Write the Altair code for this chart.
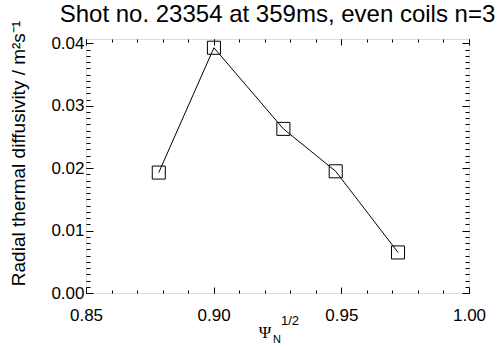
import altair as alt
import pandas as pd

# Radial thermal diffusivity profile
psi = [0.8785, 0.9001, 0.9273, 0.9478, 0.9722]
chi = [0.0193, 0.0393, 0.0263, 0.0195, 0.0065]

# Axis tick positions (major / minor)
x_major = [0.85, 0.90, 0.95, 1.00]
x_minor = [round(0.85 + 0.01 * i, 2) for i in range(16)]
y_major = [0.00, 0.01, 0.02, 0.03, 0.04]
y_minor = [round(0.001 * i, 3) for i in range(41)]

title_text = "Shot no. 23354 at 359ms, even coils n=3"
y_title = "Radial thermal diffusivity / m²s⁻¹"

FONT = "Liberation Sans"
df = pd.DataFrame({"psi": psi, "chi": chi})

x_scale = alt.Scale(domain=[0.85, 1.0], nice=False, zero=False)
y_scale = alt.Scale(domain=[0.0, 0.0407], nice=False, zero=False)


def axis(orient, values, size, labels=False, **kw):
    opts = dict(
        orient=orient, values=values, tickSize={"expr": f"-{size}"},
        tickColor="black", tickWidth=1, domain=False, grid=False,
        labels=labels, title=None,
    )
    if labels:
        opts.update(labelFont=FONT, labelFontSize=17, labelColor="black",
                    labelFlush=False, labelOverlap=False)
    opts.update(kw)
    return alt.Axis(**opts)


line = alt.Chart(df).mark_line(color="black", strokeWidth=1).encode(
    x=alt.X("psi:Q", scale=x_scale,
            axis=axis("bottom", x_major, 6, labels=True, format=".2f", labelPadding=20)),
    y=alt.Y("chi:Q", scale=y_scale,
            axis=axis("left", y_major, 7, labels=True, format=".2f", labelPadding=9,
                      title=y_title, titleFont=FONT, titleFontSize=19,
                      titleFontWeight="normal", titleColor="black",
                      titleX=-68, titleY=114, titleAngle=-90,
                      titleBaseline="middle", titleAlign="center")),
)

points = alt.Chart(df).mark_point(
    shape="square", size=170, filled=False, color="black", strokeWidth=1, opacity=1
).encode(
    x=alt.X("psi:Q", scale=x_scale, axis=axis("bottom", x_minor, 3)),
    y=alt.Y("chi:Q", scale=y_scale, axis=axis("left", y_minor, 4)),
)

top_major = alt.Chart(df).mark_point(opacity=0).encode(
    x=alt.X("psi:Q", scale=x_scale, axis=axis("top", x_major, 6)),
    y=alt.Y("chi:Q", scale=y_scale, axis=axis("right", y_major, 7)),
)

top_minor = alt.Chart(df).mark_point(opacity=0).encode(
    x=alt.X("psi:Q", scale=x_scale, axis=axis("top", x_minor, 3)),
    y=alt.Y("chi:Q", scale=y_scale, axis=axis("right", y_minor, 4)),
)

lab = pd.DataFrame({"t": ["x"]})

# Plot title, centred over the frame
title = alt.Chart(lab).mark_text(
    text=title_text, font=FONT, fontSize=24, color="black",
    align="center", baseline="alphabetic"
).encode(x=alt.value(191.5), y=alt.value(-17))

# x-axis label: Psi_N^(1/2)
psi_sym = alt.Chart(lab).mark_text(
    text="Ψ", font="Liberation Serif", fontSize=17, color="black",
    align="center", baseline="alphabetic"
).encode(x=alt.value(179), y=alt.value(299))
psi_sub = alt.Chart(lab).mark_text(
    text="N", font=FONT, fontSize=11, color="black",
    align="left", baseline="alphabetic"
).encode(x=alt.value(187), y=alt.value(304))
psi_sup = alt.Chart(lab).mark_text(
    text="1/2", font=FONT, fontSize=13, color="black",
    align="left", baseline="alphabetic"
).encode(x=alt.value(195), y=alt.value(286))

chart = alt.layer(
    line, points, top_major, top_minor, title, psi_sym, psi_sub, psi_sup
).resolve_axis(
    x="independent", y="independent"
).properties(
    width=383, height=254,
    padding={"left": 86, "top": 39, "right": 35, "bottom": 54},
    autosize=alt.AutoSizeParams(type="none"),
).configure_view(
    stroke="black", strokeWidth=1
).configure(background="white")

chart.save("out.html", embed_options={"renderer": "svg", "actions": False})
